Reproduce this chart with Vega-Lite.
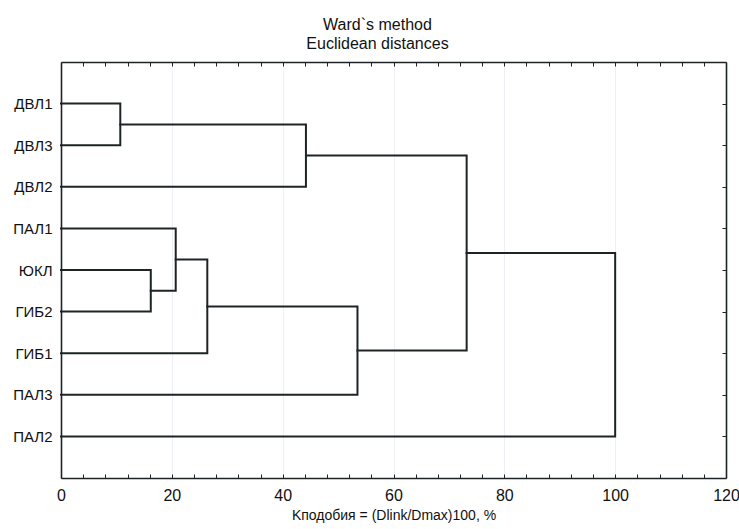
{
  "$schema": "https://vega.github.io/schema/vega-lite/v6.json",
  "width": 665,
  "height": 416,
  "autosize": {"type": "none"},
  "padding": {"left": 61, "top": 62, "right": 13, "bottom": 51},
  "background": "white",
  "title": {
    "text": ["Ward`s method", "Euclidean distances"],
    "fontSize": 16,
    "font": "Liberation Sans",
    "fontWeight": "normal",
    "color": "#111111",
    "lineHeight": 19,
    "dx": -16,
    "offset": 10,
    "anchor": "middle"
  },
  "config": {
    "view": {"stroke": null},
    "axis": {
      "labelFont": "Liberation Sans",
      "titleFont": "Liberation Sans",
      "domainColor": "#1e2426",
      "domainWidth": 1.6,
      "tickColor": "#1e2426",
      "tickWidth": 1,
      "labelColor": "#111111",
      "titleColor": "#111111",
      "titleFontWeight": "normal"
    }
  },
  "data": {
    "values": [
      {"id": "A", "o": 1, "h": 0, "y": 1},
      {"id": "A", "o": 2, "h": 10.7, "y": 1},
      {"id": "A", "o": 3, "h": 10.7, "y": 2},
      {"id": "A", "o": 4, "h": 0, "y": 2},
      {"id": "B", "o": 1, "h": 10.7, "y": 1.5},
      {"id": "B", "o": 2, "h": 44.2, "y": 1.5},
      {"id": "B", "o": 3, "h": 44.2, "y": 3},
      {"id": "B", "o": 4, "h": 0, "y": 3},
      {"id": "C", "o": 1, "h": 0, "y": 5},
      {"id": "C", "o": 2, "h": 16.2, "y": 5},
      {"id": "C", "o": 3, "h": 16.2, "y": 6},
      {"id": "C", "o": 4, "h": 0, "y": 6},
      {"id": "D", "o": 1, "h": 0, "y": 4},
      {"id": "D", "o": 2, "h": 20.7, "y": 4},
      {"id": "D", "o": 3, "h": 20.7, "y": 5.5},
      {"id": "D", "o": 4, "h": 16.2, "y": 5.5},
      {"id": "E", "o": 1, "h": 20.7, "y": 4.75},
      {"id": "E", "o": 2, "h": 26.4, "y": 4.75},
      {"id": "E", "o": 3, "h": 26.4, "y": 7},
      {"id": "E", "o": 4, "h": 0, "y": 7},
      {"id": "F", "o": 1, "h": 26.4, "y": 5.875},
      {"id": "F", "o": 2, "h": 53.5, "y": 5.875},
      {"id": "F", "o": 3, "h": 53.5, "y": 8},
      {"id": "F", "o": 4, "h": 0, "y": 8},
      {"id": "G", "o": 1, "h": 44.2, "y": 2.25},
      {"id": "G", "o": 2, "h": 73.2, "y": 2.25},
      {"id": "G", "o": 3, "h": 73.2, "y": 6.9375},
      {"id": "G", "o": 4, "h": 53.5, "y": 6.9375},
      {"id": "H", "o": 1, "h": 73.2, "y": 4.59375},
      {"id": "H", "o": 2, "h": 100, "y": 4.59375},
      {"id": "H", "o": 3, "h": 100, "y": 9},
      {"id": "H", "o": 4, "h": 0, "y": 9}
    ]
  },
  "layer": [
    {
      "mark": {"type": "line", "stroke": "#1e2426", "strokeWidth": 2, "strokeCap": "square", "strokeJoin": "miter"},
      "encoding": {
        "x": {
          "field": "h", "type": "quantitative",
          "scale": {"domain": [0, 120], "nice": false, "zero": false},
          "axis": {
            "orient": "bottom",
            "values": [0,4,8,12,16,20,24,28,32,36,40,44,48,52,56,60,64,68,72,76,80,84,88,92,96,100,104,108,112,116,120],
            "labelExpr": "datum.value % 20 === 0 ? datum.label : ''",
            "tickSize": -4,
            "labelPadding": 13,
            "labelFontSize": 16,
            "labelFlush": false,
            "labelOverlap": false,
            "title": "Kподобия = (Dlink/Dmax)100, %",
            "titleFontSize": 14,
            "titlePadding": 5,
            "grid": true,
            "gridColor": "#edf1f6",
            "gridOpacity": {"condition": {"test": "datum.value % 20 === 0 && datum.value > 0 && datum.value < 120", "value": 1}, "value": 0}
          }
        },
        "y": {
          "field": "y", "type": "quantitative",
          "scale": {"domain": [0, 10], "reverse": true, "nice": false, "zero": false},
          "axis": {
            "orient": "left",
            "values": [1,2,3,4,5,6,7,8,9],
            "labelExpr": "['','ДВЛ1','ДВЛ3','ДВЛ2','ПАЛ1','ЮКЛ','ГИБ2','ГИБ1','ПАЛ3','ПАЛ2'][datum.value]",
            "ticks": false,
            "labelPadding": 9,
            "labelFontSize": 15,
            "title": null,
            "grid": false
          }
        },
        "detail": {"field": "id"},
        "order": {"field": "o"}
      }
    },
    {
      "mark": {"type": "line", "opacity": 0},
      "encoding": {
        "x": {
          "field": "h", "type": "quantitative",
          "axis": {
            "orient": "top",
            "values": [0,4,8,12,16,20,24,28,32,36,40,44,48,52,56,60,64,68,72,76,80,84,88,92,96,100,104,108,112,116,120],
            "labels": false,
            "tickSize": -4,
            "title": null,
            "grid": false
          }
        },
        "y": {
          "field": "y", "type": "quantitative",
          "axis": {
            "orient": "right",
            "values": [1,2,3,4,5,6,7,8,9],
            "labels": false,
            "tickSize": -4,
            "title": null,
            "grid": false
          }
        },
        "detail": {"field": "id"},
        "order": {"field": "o"}
      }
    }
  ],
  "resolve": {"axis": {"x": "independent", "y": "independent"}}
}
